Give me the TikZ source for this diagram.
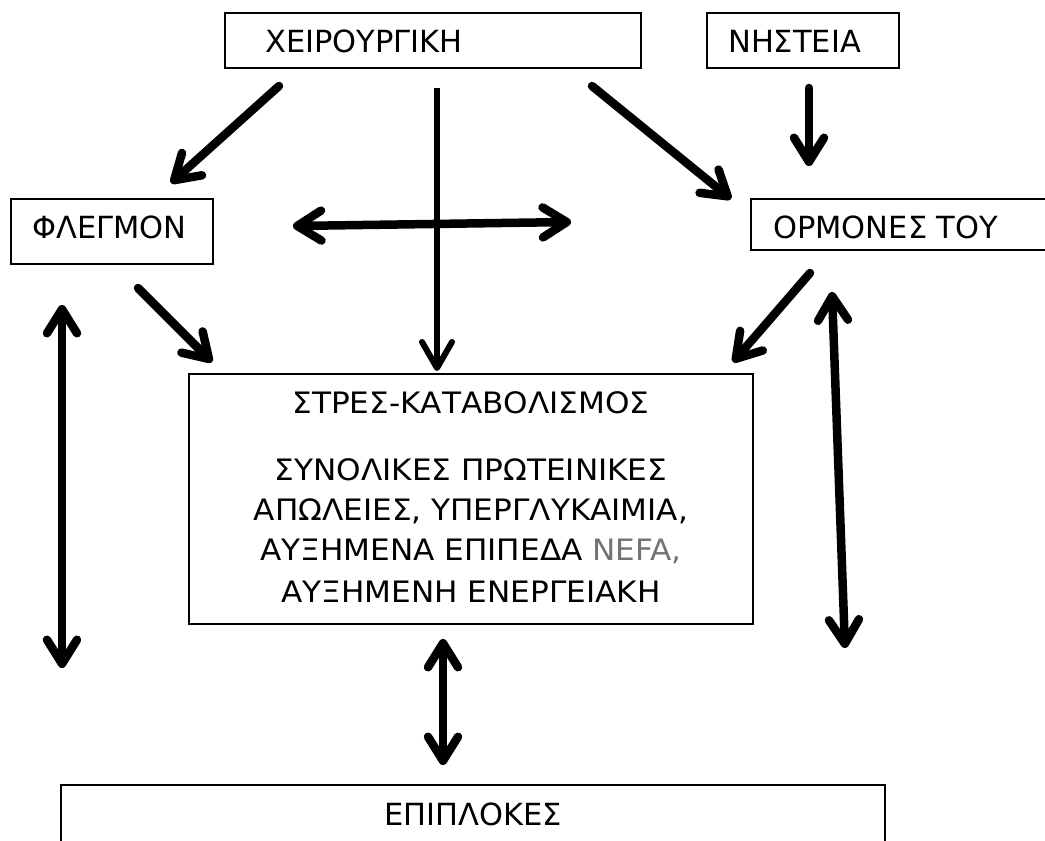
\documentclass[tikz,border=0pt]{standalone}
\usepackage{fontspec}
\setmainfont{DejaVu Sans}
\usetikzlibrary{arrows.meta}
\tikzset{
  box/.style={draw=black, line width=1.4pt, inner sep=0pt, fill=none},
  lbl/.style={inner sep=0pt, font=\fontsize{30.5pt}{39pt}\selectfont},
  mlbl/.style={inner sep=0pt, font=\fontsize{29.5pt}{39pt}\selectfont\addfontfeature{FakeStretch=1.055}},
  barb/.tip={Straight Barb[length=24pt,width=30pt,round]},
  arr/.style={line width=8.5pt, line cap=round, -barb},
  darr/.style={line width=8.5pt, line cap=round, barb-barb},
  thinarr/.style={line width=6pt, -{Straight Barb[length=26pt,width=30pt,round]}},
}
\begin{document}
\begin{tikzpicture}[x=1pt,y=-1pt]
\useasboundingbox (0,0) rectangle (1045,841);
\clip (0,0) rectangle (1045,841);
% boxes
\node[box, minimum width=416pt, minimum height=55pt] (surg) at (433,40.5) {};
\node[lbl, anchor=base west] (surgT) at (265,52) {ΧΕΙΡΟΥΡΓΙΚΗ};
\node[box, minimum width=192pt, minimum height=55pt] (fast) at (803,40.5) {};
\node[lbl, anchor=base west] (fastT) at (728,52) {ΝΗΣΤΕΙΑ};
\node[box, minimum width=202pt, minimum height=65pt] (flegm) at (112,231.5) {};
\node[lbl, anchor=base west] (flegmT) at (32,238) {ΦΛΕΓΜΟΝ};
\node[box, minimum width=330pt, minimum height=51pt] (horm) at (916,224.5) {};
\node[lbl, anchor=base west] (hormT) at (773,238) {ΟΡΜΟΝΕΣ ΤΟΥ};
\node[box, minimum width=564pt, minimum height=250pt] (main) at (471,499) {};
\node[mlbl, anchor=base] (m1) at (471,413) {ΣΤΡΕΣ-ΚΑΤΑΒΟΛΙΣΜΟΣ};
\node[mlbl, anchor=base] (m2) at (471,480) {ΣΥΝΟΛΙΚΕΣ ΠΡΩΤΕΙΝΙΚΕΣ};
\node[mlbl, anchor=base] (m3) at (471,520) {ΑΠΩΛΕΙΕΣ, ΥΠΕΡΓΛΥΚΑΙΜΙΑ,};
\node[mlbl, anchor=base] (m4) at (471,560) {ΑΥΞΗΜΕΝΑ ΕΠΙΠΕΔΑ \textcolor{black!55}{NEFA,}};
\node[mlbl, anchor=base] (m5) at (471,602) {ΑΥΞΗΜΕΝΗ ΕΝΕΡΓΕΙΑΚΗ};
\node[box, minimum width=824pt, minimum height=80pt] (compl) at (473,825) {};
\node[lbl, anchor=base] (complT) at (473,825) {ΕΠΙΠΛΟΚΕΣ};
% arrow end points
\coordinate (a1s) at (279,86);  \coordinate (a1e) at (171,183);
\coordinate (a2s) at (437,88);  \coordinate (a2e) at (437,371);
\coordinate (a3s) at (592,86);  \coordinate (a3e) at (731,199);
\coordinate (a4s) at (809,88);  \coordinate (a4e) at (809,166);
\coordinate (a5s) at (293,226); \coordinate (a5e) at (571,222);
\coordinate (a6s) at (138,288); \coordinate (a6e) at (212,362);
\coordinate (a7s) at (810,273); \coordinate (a7e) at (733,362);
\coordinate (a8s) at (62,305);  \coordinate (a8e) at (62,668);
\coordinate (a9s) at (832,292); \coordinate (a9e) at (845,648);
\coordinate (a10s) at (443,639); \coordinate (a10e) at (443,765);
% arrows
\draw[arr] (a1s) -- (a1e);
\draw[thinarr] (a2s) -- (a2e);
\draw[arr] (a3s) -- (a3e);
\draw[arr] (a4s) -- (a4e);
\draw[darr] (a5s) -- (a5e);
\draw[arr] (a6s) -- (a6e);
\draw[arr] (a7s) -- (a7e);
\draw[darr] (a8s) -- (a8e);
\draw[darr] (a9s) -- (a9e);
\draw[darr] (a10s) -- (a10e);
\end{tikzpicture}
\end{document}
